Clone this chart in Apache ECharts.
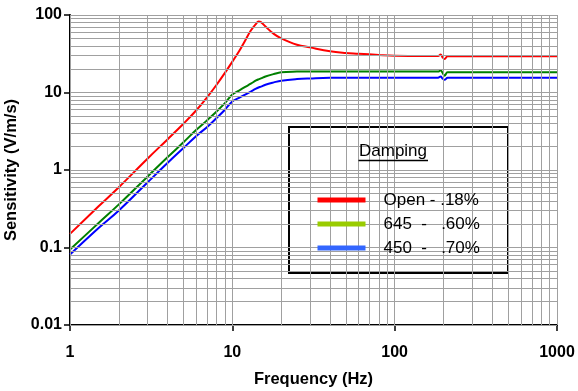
<!DOCTYPE html>
<html>
<head>
<meta charset="utf-8">
<script src="https://cdn.jsdelivr.net/npm/echarts@6/dist/echarts.min.js"></script>
<style>
html,body{margin:0;padding:0;background:#fff;}
#chart{width:578px;height:391px;}
</style>
</head>
<body>
<div id="chart"></div>
<script>
// Frequencies (Hz) at which the curves were read
var freq = [1, 1.5, 2, 3, 4, 5, 6, 7, 8, 9, 10, 11, 12, 13, 14, 14.5, 15, 16, 18, 20, 25, 30, 40, 50, 60, 80, 100, 150, 185, 192, 197, 203, 212, 300, 500, 1000];
// Sensitivity (V/m/s)
var openVals = [0.15, 0.34, 0.6, 1.4, 2.5, 3.95, 5.9, 8.7, 12.6, 17.9, 25, 34, 47, 63, 77, 82.5, 81, 71, 57, 50, 41.4, 38.2, 34, 32.4, 31.7, 30.5, 29.8, 29.5, 29.5, 31, 28.5, 27, 29.3, 29.3, 29.3, 29.3];
var r645Vals = [0.094, 0.207, 0.36, 0.82, 1.47, 2.28, 3.3, 4.4, 5.7, 7.3, 9.4, 10.6, 11.8, 13.0, 14.3, 14.8, 15.2, 16.1, 17.3, 18.2, 18.6, 18.7, 18.7, 18.7, 18.7, 18.7, 18.7, 18.6, 18.6, 19.3, 18.0, 16.5, 18.2, 18.2, 18.2, 18.2];
var r450Vals = [0.081, 0.178, 0.3, 0.69, 1.24, 1.92, 2.75, 3.6, 4.69, 6.0, 7.67, 8.5, 9.4, 10.3, 11.2, 11.6, 11.9, 12.6, 13.5, 14.2, 14.9, 15.2, 15.5, 15.5, 15.5, 15.5, 15.5, 15.5, 15.5, 16.1, 15.2, 14.6, 15.5, 15.5, 15.5, 15.5];
var seriesNames = ['Open - .18%', '645  -   .60%', '450  -   .70%'];
var lineColors = ['#ff0000', '#008000', '#0000ff'];
var legendColors = ['#ff0000', '#99cc00', '#3366ff'];
// Axis decades and in-decade multipliers for the log grid
var xDecades = [1, 10, 100];
var yDecades = [0.01, 0.1, 1, 10];
var gridMults = [1, 2, 3, 4, 5, 6, 7, 8, 9];
var xMax = 1000, yMax = 100;

var FONT = '"Liberation Sans", Arial, sans-serif';

function pairs(vals) {
  return freq.map(function (f, i) { return [f, vals[i]]; });
}
function gridValues(decades, top) {
  var out = [];
  decades.forEach(function (d) {
    gridMults.forEach(function (m) { out.push(+(d * m).toPrecision(6)); });
  });
  out.push(top);
  return out;
}
var gridLines = [];
gridValues(xDecades, xMax).forEach(function (v) { gridLines.push({ xAxis: v }); });
gridValues(yDecades, yMax).forEach(function (v) { gridLines.push({ yAxis: v }); });

function fmt(v) { return String(+Number(v).toPrecision(6)); }

var chart = echarts.init(document.getElementById('chart'), null, { renderer: 'canvas' });
var allVals = [openVals, r645Vals, r450Vals];
var series = [{
  type: 'line',
  name: '_grid',
  data: [],
  z: 1,
  silent: true,
  markLine: {
    silent: true,
    symbol: ['none', 'none'],
    animation: false,
    label: { show: false },
    lineStyle: { color: '#a0a0a0', width: 1, type: 'solid' },
    emphasis: { disabled: true },
    data: gridLines
  }
}];
seriesNames.forEach(function (n, i) {
  series.push({
    type: 'line',
    name: n,
    data: pairs(allVals[i]),
    showSymbol: false,
    symbol: 'none',
    smooth: 0.4,
    z: 2,
    lineStyle: { color: lineColors[i], width: 2 },
    itemStyle: { color: lineColors[i] }
  });
});

chart.setOption({
  animation: false,
  backgroundColor: '#fff',
  grid: { left: 70, top: 15, width: 487, height: 310, containLabel: false, outerBoundsMode: 'none' },
  xAxis: {
    type: 'log', logBase: 10, min: 1, max: xMax, splitNumber: 3,
    name: 'Frequency (Hz)', nameLocation: 'middle', nameGap: 46,
    nameTextStyle: { fontFamily: FONT, fontSize: 16.5, fontWeight: 'bold', color: '#000' },
    axisLine: { show: true, onZero: false, lineStyle: { color: '#000', width: 2 } },
    axisTick: { show: true, inside: false, length: 6, lineStyle: { color: '#000', width: 1.5 } },
    axisLabel: { margin: 20, fontFamily: FONT, fontSize: 16, fontWeight: 'bold', color: '#000', formatter: fmt },
    splitLine: { show: false },
    minorTick: { show: false }, minorSplitLine: { show: false }
  },
  yAxis: {
    type: 'log', logBase: 10, min: 0.01, max: yMax, splitNumber: 4,
    name: 'Sensitivity (V/m/s)', nameLocation: 'middle', nameGap: 40, nameRotate: 90,
    nameTextStyle: { fontFamily: FONT, fontSize: 16.5, fontWeight: 'bold', color: '#000' },
    axisLine: { show: true, onZero: false, lineStyle: { color: '#000', width: 2 } },
    axisTick: { show: true, inside: false, length: 6, lineStyle: { color: '#000', width: 1.5 } },
    axisLabel: { margin: 8, fontFamily: FONT, fontSize: 16, fontWeight: 'bold', color: '#000', formatter: fmt },
    splitLine: { show: false },
    minorTick: { show: false }, minorSplitLine: { show: false }
  },
  legend: {
    show: true,
    orient: 'vertical',
    left: 315, top: 190,
    padding: 0,
    itemWidth: 48, itemHeight: 5, itemGap: 4,
    selectedMode: false,
    z: 10,
    textStyle: { fontFamily: FONT, fontSize: 17, color: '#000', lineHeight: 20, padding: [0, 0, 0, 13] },
    data: seriesNames.map(function (n, i) {
      return {
        name: n,
        itemStyle: { color: legendColors[i], borderWidth: 0 },
        lineStyle: { color: legendColors[i], width: 5, type: 'solid', cap: 'butt' }
      };
    })
  },
  graphic: [
    { type: 'rect', z: 5, silent: true, shape: { x: 289, y: 127, width: 219, height: 146 },
      style: { fill: '#fff', stroke: '#000', lineWidth: 2 } },
    { type: 'text', z: 6, silent: true, x: 393, y: 151,
      style: { text: 'Damping', fontFamily: FONT, fontSize: 17, fill: '#000', align: 'center', verticalAlign: 'middle' } },
    { type: 'line', z: 6, silent: true, shape: { x1: 358.5, y1: 160.5, x2: 428, y2: 160.5 },
      style: { stroke: '#000', lineWidth: 1.5 } }
  ],
  series: series
});
</script>
</body>
</html>
